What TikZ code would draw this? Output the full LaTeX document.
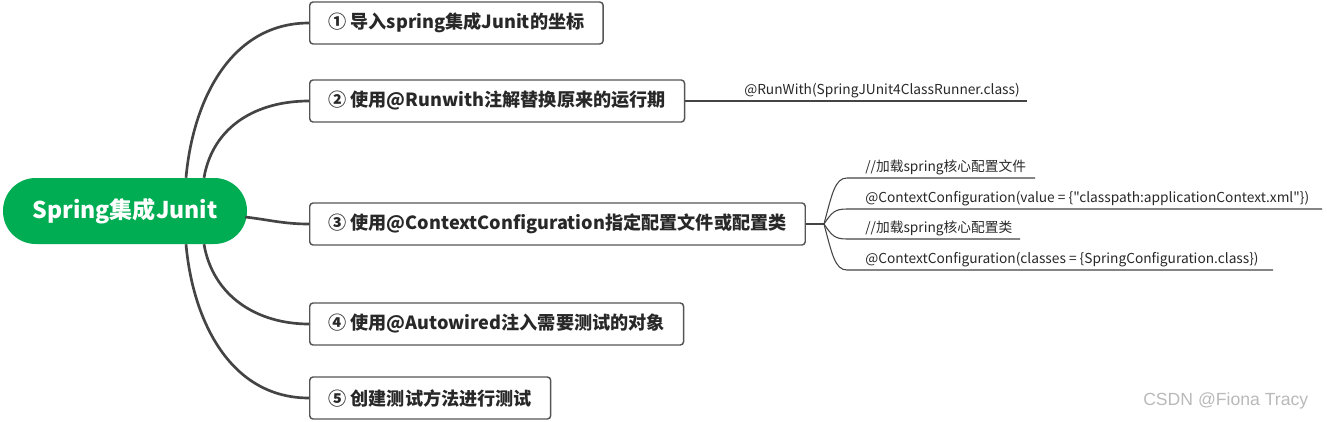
\documentclass[tikz,border=0pt]{standalone}
\usepackage{fontspec}
\setmainfont{Noto Sans CJK SC}[Ligatures=TeXOff]
\newfontfamily\wmfont{Liberation Sans}
\usetikzlibrary{calc}
\definecolor{rootgreen}{RGB}{0,173,83}
\definecolor{linegray}{RGB}{68,68,68}
\definecolor{boxgray}{RGB}{85,85,85}
\definecolor{txtgray}{RGB}{40,40,40}
\definecolor{wmgray}{RGB}{185,185,185}
\begin{document}
\begin{tikzpicture}[x=0.75pt,y=-0.75pt,
  rootbox/.style={fill=rootgreen, text=white, rounded corners=24.5pt, minimum width=183pt, minimum height=49.5pt, font=\fontsize{17.3}{20}\selectfont\bfseries, inner sep=0pt},
  topic/.style={draw=boxgray, line width=1.1pt, rounded corners=2.5pt, fill=white, anchor=west, minimum height=31.5pt, inner xsep=14pt, inner ysep=0pt, font=\fontsize{13.6}{15}\selectfont\bfseries, text=txtgray},
  mainline/.style={draw=linegray, line width=2pt},
  leafline/.style={draw=linegray, line width=0.8pt},
  leaf/.style={anchor=south west, inner sep=0pt, font=\fontsize{10.3}{12}\selectfont, text=txtgray},
  wm/.style={font=\wmfont\fontsize{13.2}{15}\selectfont, text=wmgray, inner sep=0pt}
]
\useasboundingbox (0,0) rectangle (1327,421);
% root
\node[rootbox] (root) at (125,211) {Spring集成Junit};
% topics
\node[topic] (t1) at (309,23) {① 导入spring集成Junit的坐标};
\node[topic] (t2) at (309,101) {② 使用@Runwith注解替换原来的运行期};
\node[topic] (t3) at (309,224) {③ 使用@ContextConfiguration指定配置文件或配置类};
\node[topic] (t4) at (309,324) {④ 使用@Autowired注入需要测试的对象};
\node[topic] (t5) at (309,398) {⑤ 创建测试方法进行测试};
% main connectors
\coordinate (r1) at ($(root.north)+(61,0)$);
\coordinate (r2) at ($(root.north)+(79,0)$);
\coordinate (r4) at ($(root.south)+(79,0)$);
\coordinate (r5) at ($(root.south)+(61,0)$);
\coordinate (r3) at ($(root.east)+(-2,6)$);
\draw[mainline] (r1) .. controls +(7,-78) and +(-78,0) .. (t1.west);
\draw[mainline] (r2) .. controls +(9,-52) and +(-52,0) .. (t2.west);
\draw[mainline] (r3) .. controls +(25,3) and +(-25,0) .. (t3.west);
\draw[mainline] (r4) .. controls +(9,52) and +(-52,0) .. (t4.west);
\draw[mainline] (r5) .. controls +(7,78) and +(-78,0) .. (t5.west);
% leaf of topic 2
\node[leaf] (l2) at (744,98) {@RunWith(SpringJUnit4ClassRunner.class)};
\coordinate (e2) at (1027,101);
\draw[leafline] (t2.east) -- (e2);
% leaves of topic 3
\coordinate (j3) at ($(t3.east)+(18,0)$);
\draw[leafline] (t3.east) -- (j3);
\node[leaf] (a1) at (865,175) {//加载spring核心配置文件};
\node[leaf] (a2) at (865,206) {@ContextConfiguration(value = \{"classpath:applicationContext.xml"\})};
\node[leaf] (a3) at (865,236) {//加载spring核心配置类};
\node[leaf] (a4) at (865,267) {@ContextConfiguration(classes = \{SpringConfiguration.class\})};
\coordinate (s1) at ($(j3)+(23,0)$);
\coordinate (b1) at (s1 |- 0,178);
\coordinate (b2) at (s1 |- 0,209);
\coordinate (b3) at (s1 |- 0,239);
\coordinate (b4) at (s1 |- 0,270);
\coordinate (f1) at (1035,178);
\coordinate (f2) at (1322,209);
\coordinate (f3) at (1020,239);
\coordinate (f4) at (1273,270);
\draw[leafline] (j3) .. controls +(8,-30) and +(-12,0) .. (b1) -- (f1);
\draw[leafline] (j3) .. controls +(8,-12) and +(-12,0) .. (b2) -- (f2);
\draw[leafline] (j3) .. controls +(8,12) and +(-12,0) .. (b3) -- (f3);
\draw[leafline] (j3) .. controls +(8,30) and +(-12,0) .. (b4) -- (f4);
% watermark
\node[wm, anchor=west] (wm) at (1143,401) {CSDN @Fiona Tracy};
\end{tikzpicture}
\end{document}
